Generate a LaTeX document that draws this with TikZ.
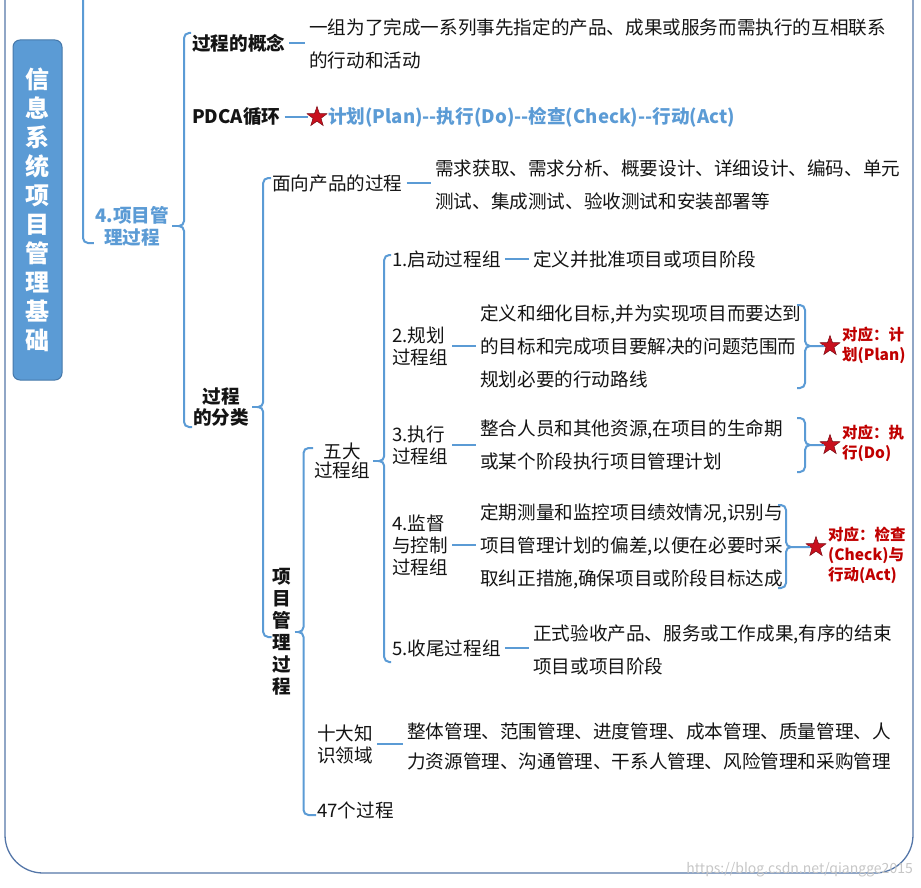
\documentclass[tikz,border=0pt]{standalone}
\usepackage{fontspec}
\setmainfont{Noto Sans CJK SC}
\usetikzlibrary{positioning, shapes.geometric, calc}

\definecolor{lineblue}{RGB}{91,155,213}
\definecolor{frameblue}{RGB}{84,118,168}
\definecolor{boxedge}{RGB}{70,120,170}
\definecolor{notered}{RGB}{192,0,0}
\definecolor{starred}{RGB}{200,16,30}
\definecolor{inkgray}{RGB}{20,20,20}

\begin{document}
\begin{tikzpicture}[x=1pt, y=-1pt,
    title/.style={rectangle, rounded corners=7pt, draw=boxedge, fill=lineblue, line width=1pt, minimum width=49pt, minimum height=340pt, text=white, align=center, font=\fontsize{24}{29}\selectfont\bfseries},
    topic/.style={anchor=west, inner sep=1pt, align=center, text=inkgray, font=\fontsize{18.6}{21.5}\selectfont\bfseries},
    sub/.style={anchor=west, inner sep=1pt, align=left, text=inkgray, font=\fontsize{18.6}{22}\selectfont},
    desc/.style={anchor=west, inner sep=1pt, align=left, text=inkgray, font=\fontsize{18.6}{33}\selectfont},
    note/.style={anchor=west, inner sep=1pt, align=left, text=notered, font=\fontsize{15.5}{20}\selectfont\bfseries},
    startag/.style={star, star points=5, star point ratio=2.5, minimum size=21pt, inner sep=0pt, fill=starred, draw=starred!60!black, line width=0.5pt},
    branch/.style={draw=lineblue, line width=2pt, rounded corners=5pt},
    link/.style={draw=lineblue, line width=2pt, shorten <=3pt, shorten >=3pt},
    stem/.style={draw=lineblue, line width=2pt, shorten <=2pt}
]
    \useasboundingbox (0,0) rectangle (921,888);

    % Frame ===========================
    \draw[frameblue, line width=1.3pt, rounded corners=38pt] (5,-30) -- (5,873) -- (913,873) -- (913,-30);
    \node[title] (head) at (37.5,210) {信\\息\\系\\统\\项\\目\\管\\理\\基\\础};

    % Level 1 ===========================
    \node[topic, anchor=center, text=lineblue, font=\fontsize{18.6}{22}\selectfont\bfseries] (lbl4) at (132,226) {4.项目管\\理过程};
    \node[topic] (concept) at (191,43) {过程的概念};
    \node[desc] (conceptd) at (308,43.5) {一组为了完成一系列事先指定的产品、成果或服务而需执行的互相联系\\的行动和活动};
    \node[topic] (pdca) at (191,117) {PDCA循环};
    \node[startag] (s1) at (317,117) {};
    \node[topic, text=lineblue] (pdcad) at (327,117) {计划(Plan)-{}-执行(Do)-{}-检查(Check)-{}-行动(Act)};
    \node[topic] (kind) at (192,407) {过程\\的分类};

    % Level 2 ===========================
    \node[sub] (product) at (271,183) {面向产品的过程};
    \node[desc] (productd) at (434,184.5) {需求获取、需求分析、概要设计、详细设计、编码、单元\\测试、集成测试、验收测试和安装部署等};
    \node[topic, anchor=center, font=\fontsize{18.6}{22}\selectfont\bfseries] (pmp) at (282,632) {项\\目\\管\\理\\过\\程};

    % Level 3 ===========================
    \node[sub, align=center, font=\fontsize{18.6}{19}\selectfont] (five) at (313,461) {五大\\过程组};
    \node[sub] (ten) at (316,744) {十大知\\识领域};
    \node[desc, font=\fontsize{18.6}{30}\selectfont] (tend) at (406,746) {整体管理、范围管理、进度管理、成本管理、质量管理、人\\力资源管理、沟通管理、干系人管理、风险管理和采购管理};
    \node[sub] (p47) at (316,810) {47个过程};

    % Process groups ===========================
    \node[sub] (g1) at (391,259) {1.启动过程组};
    \node[desc] (g1d) at (532,259) {定义并批准项目或项目阶段};
    \node[sub] (g2) at (391,346) {2.规划\\过程组};
    \node[desc] (g2d) at (479,346) {定义和细化目标,并为实现项目而要达到\\的目标和完成项目要解决的问题范围而\\规划必要的行动路线};
    \node[sub] (g3) at (391,445) {3.执行\\过程组};
    \node[desc] (g3d) at (479,444.5) {整合人员和其他资源,在项目的生命期\\或某个阶段执行项目管理计划};
    \node[sub] (g4) at (391,545) {4.监督\\与控制\\过程组};
    \node[desc] (g4d) at (479,546) {定期测量和监控项目绩效情况,识别与\\项目管理计划的偏差,以便在必要时采\\取纠正措施,确保项目或阶段目标达成};
    \node[sub] (g5) at (391,648) {5.收尾过程组};
    \node[desc] (g5d) at (532,649.5) {正式验收产品、服务或工作成果,有序的结束\\项目或项目阶段};

    % PDCA notes ===========================
    \node[startag] (s2) at (830,346) {};
    \node[note] (n2) at (841,345) {对应：计\\划(Plan)};
    \node[startag] (s3) at (830,445) {};
    \node[note] (n3) at (841,443) {对应：执\\行(Do)};
    \node[startag] (s4) at (816,547) {};
    \node[note] (n4) at (827,555) {对应：检查\\(Check)与\\行动(Act)};

    \node[text=gray!45, font=\fontsize{14}{14}\selectfont, anchor=east, inner sep=0pt] (wm) at (913,870) {https://blog.csdn.net/qiangge2015};

    % Links ===========================
    \draw[link] (concept) -- (concept -| conceptd.west);
    \draw[link] (pdca) -- (pdca -| s1.west);
    \draw[link] (product) -- (product -| productd.west);
    \draw[link] (ten) -- (ten -| tend.west);
    \draw[link] (g1) -- (g1 -| g1d.west);
    \draw[link] (g2) -- (g2 -| g2d.west);
    \draw[link] (g3) -- (g3 -| g3d.west);
    \draw[link] (g4) -- (g4 -| g4d.west);
    \draw[link] (g5) -- (g5 -| g5d.west);

    % Brackets ===========================
    \coordinate (up) at (83,-30);
    \draw[branch] (up) |- ([yshift=-17pt]lbl4.west);

    \coordinate (t1) at ($(lbl4.east)+(8,0)$);
    \coordinate (m1) at ($(t1)+(6,0)$);
    \draw[stem] (lbl4) -- (t1);
    \draw[branch] ([yshift=10pt]concept.west) -| (m1) -- (t1) ([yshift=-20pt]kind.west) -| (m1) -- (t1);

    \coordinate (t2) at ($(kind.east)+(7,0)$);
    \coordinate (m2) at ($(t2)+(6,0)$);
    \draw[stem] (kind) -- (t2);
    \draw[branch] ([yshift=5pt]product.west) -| (m2) -- (t2) ([yshift=-5pt]pmp.west) -| (m2) -- (t2);

    \coordinate (t3) at ($(pmp.east)+(5,0)$);
    \coordinate (m3) at ($(t3)+(6,0)$);
    \draw[stem] (pmp) -- (t3);
    \draw[branch] ([yshift=13pt]five.west) -| (m3) -- (t3) ([yshift=-5pt]p47.west) -| (m3) -- (t3);

    \coordinate (t4) at ($(five.east)+(7,0)$);
    \coordinate (m4) at ($(t4)+(6,0)$);
    \draw[stem] (five) -- (t4);
    \draw[branch] ([yshift=4pt]g1.west) -| (m4) -- (t4) ([yshift=-14pt]g5.west) -| (m4) -- (t4);

    % Braces to notes ===========================
    \coordinate (b2t) at (797,305);
    \coordinate (b2b) at (797,388);
    \coordinate (b2m) at (805,346);
    \draw[branch] (b2t) -| (b2m) -- (s2) (b2b) -| (b2m) -- (s2);

    \coordinate (b3t) at (797,418);
    \coordinate (b3b) at (797,472);
    \coordinate (b3m) at (805,445);
    \draw[branch] (b3t) -| (b3m) -- (s3) (b3b) -| (b3m) -- (s3);

    \coordinate (b4t) at (778,505);
    \coordinate (b4b) at (778,588);
    \coordinate (b4m) at (786,547);
    \draw[branch] (b4t) -| (b4m) -- (s4) (b4b) -| (b4m) -- (s4);

\end{tikzpicture}
\end{document}
